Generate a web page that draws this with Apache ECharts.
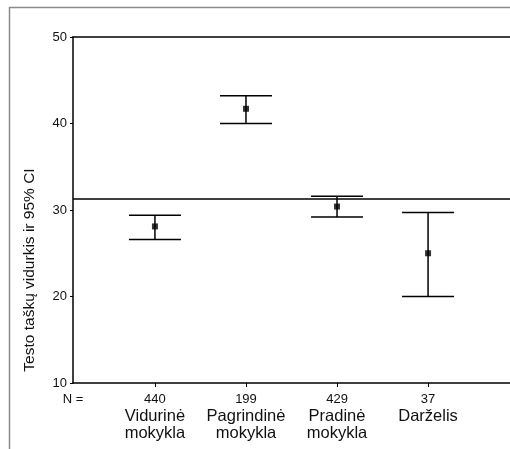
<!DOCTYPE html>
<html>
<head>
<meta charset="utf-8">
<script src="https://cdn.jsdelivr.net/npm/echarts@6/dist/echarts.min.js"></script>
<style>
  html, body { margin: 0; padding: 0; background: #fff; }
  #chart { width: 510px; height: 449px; }
</style>
</head>
<body>
<div id="chart"></div>
<script>
  // school groups and their sample sizes
  const groups = ['Vidurinė\nmokykla', 'Pagrindinė\nmokykla', 'Pradinė\nmokykla', 'Darželis']
  const counts = [440, 199, 429, 37]
  // mean and 95% CI bounds
  const means = [28.1, 41.7, 30.4, 25.0]
  const lower = [26.6, 40.0, 29.2, 20.0]
  const upper = [29.4, 43.2, 31.6, 29.7]
  const refLine = 31.3
  const yTicks = [10, 20, 30, 40, 50]

  const font = 'Liberation Sans, Arial, sans-serif'
  const chart = echarts.init(document.getElementById('chart'))

  const positions = groups.map((g, i) => i + 1)
  const ciData = positions.map((x, i) => [x, lower[i], upper[i]])
  const meanData = positions.map((x, i) => [x, means[i]])

  chart.setOption({
    animation: false,
    textStyle: { fontFamily: font },
    grid: { left: 73, top: 37, right: 0, bottom: 66 },
    graphic: [
      { type: 'line', shape: { x1: 9, y1: 7.5, x2: 510, y2: 7.5 }, style: { stroke: '#8a8a8a', lineWidth: 1.5 } },
      { type: 'line', shape: { x1: 9.5, y1: 7, x2: 9.5, y2: 449 }, style: { stroke: '#8a8a8a', lineWidth: 1.5 } },
      {
        type: 'text', x: 30, y: 270, rotation: Math.PI / 2,
        style: {
          text: 'Testo taškų vidurkis ir 95% CI', fill: '#111', font: '15.5px ' + font,
          align: 'center', verticalAlign: 'middle'
        }
      }
    ],
    xAxis: [{
      type: 'value', min: 0.1, max: 4.9,
      splitLine: { show: false },
      axisLine: { lineStyle: { color: '#000', width: 1.5 } },
      axisTick: { customValues: positions, length: 4, lineStyle: { color: '#000' } },
      axisLabel: {
        customValues: [0.1].concat(positions),
        margin: 7,
        formatter: (v) => {
          if (v < 0.5) return '{n|N =}'
          const i = Math.round(v) - 1
          return '{n|' + counts[i] + '}\n' + groups[i].split('\n').map(s => '{c|' + s + '}').join('\n')
        },
        rich: {
          n: { fontSize: 13, lineHeight: 18, color: '#111', fontFamily: font },
          c: { fontSize: 16.5, lineHeight: 17, color: '#111', fontFamily: font }
        }
      }
    }, {
      type: 'value', position: 'top', min: 0.1, max: 4.9,
      axisLine: { show: true, lineStyle: { color: '#000', width: 1.5 } },
      axisTick: { show: false }, axisLabel: { show: false }, splitLine: { show: false }
    }],
    yAxis: {
      type: 'value', min: yTicks[0], max: yTicks[yTicks.length - 1], interval: 10,
      splitLine: { show: false },
      axisLine: { show: true, lineStyle: { color: '#000', width: 1.5 } },
      axisTick: { show: true, length: 3, lineStyle: { color: '#000' } },
      axisLabel: { margin: 6, fontSize: 13, color: '#111' }
    },
    series: [{
      type: 'custom',
      data: ciData,
      renderItem: (params, api) => {
        const x = api.value(0)
        const lo = api.coord([x, api.value(1)])
        const hi = api.coord([x, api.value(2)])
        const half = 26
        const st = { stroke: '#000', lineWidth: 1.5 }
        return {
          type: 'group',
          children: [
            { type: 'line', shape: { x1: lo[0], y1: lo[1], x2: hi[0], y2: hi[1] }, style: st },
            { type: 'line', shape: { x1: hi[0] - half, y1: hi[1], x2: hi[0] + half, y2: hi[1] }, style: st },
            { type: 'line', shape: { x1: lo[0] - half, y1: lo[1], x2: lo[0] + half, y2: lo[1] }, style: st }
          ]
        }
      },
      z: 2
    }, {
      type: 'scatter',
      data: meanData,
      symbol: 'rect',
      symbolSize: 6,
      itemStyle: { color: '#000' },
      z: 3,
      markLine: {
        silent: true,
        symbol: 'none',
        label: { show: false },
        lineStyle: { color: '#000', width: 1.5, type: 'solid' },
        data: [{ yAxis: refLine }]
      }
    }]
  })
</script>
</body>
</html>
